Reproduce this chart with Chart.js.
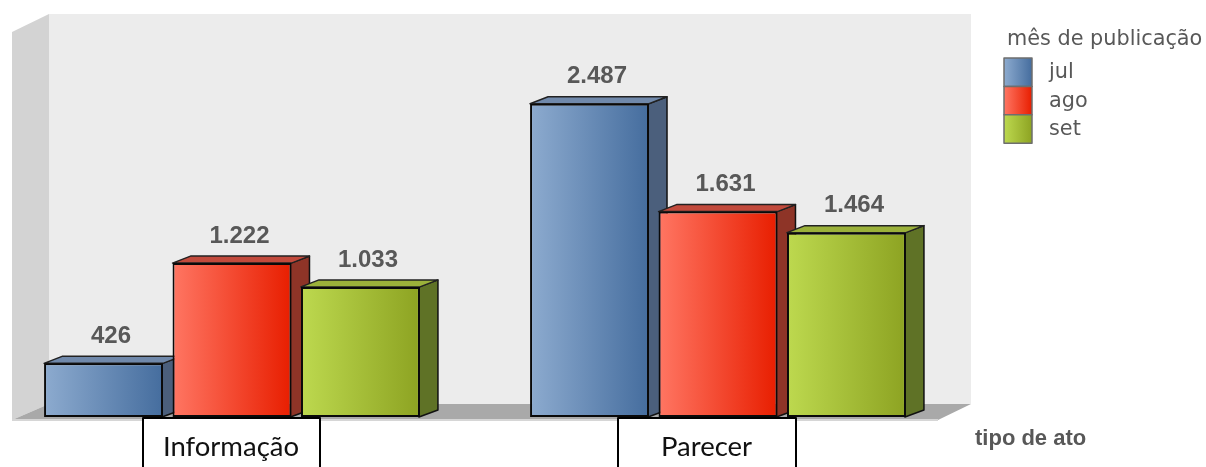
<!DOCTYPE html>
<html><head><meta charset="utf-8">
<style>html,body{margin:0;padding:0;background:#fff}canvas{display:block}</style>
<script src="https://cdn.jsdelivr.net/npm/chart.js@4"></script>
</head><body><canvas id="c" width="1206" height="467"></canvas>
<script>
const categories = ['Informação', 'Parecer'];
const jul = [426, 2487];
const ago = [1222, 1631];
const set = [1033, 1464];
const seriesNames = ['jul', 'ago', 'set'];
const legendTitle = 'mês de publicação';
const axisTitle = 'tipo de ato';
const palette = [
  {l:'#8dabcf', r:'#456d9e', top:'#7089ab', side:'#4b5f7c'},
  {l:'#ff7663', r:'#e81e00', top:'#c24a3c', side:'#8e3427'},
  {l:'#bdd94f', r:'#8da322', top:'#9bb13a', side:'#5f7226'}
];
const DX = 18, DY = 7;
const fmt = v => v.toLocaleString('de-DE');

function poly(c, pts, fill, stroke, lw){
  c.beginPath(); pts.forEach((p,i)=> i?c.lineTo(p[0],p[1]):c.moveTo(p[0],p[1])); c.closePath();
  if(fill){c.fillStyle=fill;c.fill();}
  if(stroke){c.strokeStyle=stroke;c.lineWidth=lw||1;c.lineJoin='round';c.stroke();}
}
const scene = {
  id:'scene',
  beforeDraw(chart){
    const c = chart.ctx;
    c.save();
    poly(c,[[49,14],[971,14],[971,404],[49,404]],'#ececec');
    poly(c,[[12,32],[49,14],[49,404],[12,420]],'#d3d3d3');
    poly(c,[[49,404],[971,404],[938,420],[12,420]],'#a9a9a9');
    c.fillStyle='#d6d6d6'; c.fillRect(12,419,926,2);
    c.restore();
  },
  beforeDatasetsDraw(chart){
    const c = chart.ctx;
    chart.data.datasets.forEach((ds,di)=>{
      const meta = chart.getDatasetMeta(di), col = palette[di];
      meta.data.forEach(el=>{
        const {x,y,base,width} = el.getProps(['x','y','base','width']);
        const x1 = x-width/2, x2 = x+width/2;
        poly(c,[[x2-1,y],[x2+DX,y-DY],[x2+DX,base-DY],[x2-1,base]],col.side,'#111',1.5);
        poly(c,[[x1,y],[x1+DX,y-DY],[x2+DX,y-DY],[x2,y]],col.top,'#222',1.5);
        const g = c.createLinearGradient(x1,0,x2,0);
        g.addColorStop(0,col.l); g.addColorStop(1,col.r);
        el.options = Object.assign({},el.options,{backgroundColor:g,borderColor:'#0a0a0a'});
        el.draw(c);
      });
    });
    // value labels
    c.save();
    c.font='bold 24px "Liberation Sans"'; c.fillStyle='#585858';
    c.textAlign='center'; c.textBaseline='middle';
    chart.data.datasets.forEach((ds,di)=>{
      chart.getDatasetMeta(di).data.forEach((el,i)=>{
        c.fillText(fmt(ds.data[i]), el.x+7.5, el.y-27);
      });
    });
    // category boxes
    const boxes=[[143,320],[618,796]];
    categories.forEach((t,i)=>{
      const [a,b]=boxes[i];
      c.fillStyle='#fff'; c.fillRect(a,418,b-a,49);
      c.strokeStyle='#000'; c.lineWidth=2;
      c.beginPath(); c.moveTo(a,468); c.lineTo(a,418); c.lineTo(b,418); c.lineTo(b,468); c.stroke();
      c.fillStyle='#111'; c.font='27.5px Lato'; c.textAlign='center'; c.textBaseline='alphabetic';
      c.fillText(t,(a+b)/2-0.5,456);
    });
    // axis title
    c.fillStyle='#585858'; c.font='bold 22px "Liberation Sans"'; c.textAlign='left'; c.textBaseline='alphabetic';
    c.fillText(axisTitle,975,445);
    // legend
    c.font='20.8px "DejaVu Sans"'; c.fillStyle='#585858';
    c.fillText(legendTitle,1007,45);
    seriesNames.forEach((n,i)=>{
      const y=58+i*28.4, h=28.4;
      const g=c.createLinearGradient(1004,0,1032,0);
      g.addColorStop(0,palette[i].l); g.addColorStop(1,palette[i].r);
      c.fillStyle=g; c.fillRect(1004,y,28,h);
      c.strokeStyle='#6e6e6e'; c.lineWidth=1.5; c.strokeRect(1004,y,28,h);
      c.fillStyle='#585858'; c.font='20.8px "DejaVu Sans"'; c.textBaseline='middle';
      c.fillText(n,1049,y+15);
    });
    c.restore();
    return false;
  }
};
new Chart(document.getElementById('c'),{
  type:'bar',
  data:{labels:categories,datasets:[
    {label:seriesNames[0],data:jul,backgroundColor:palette[0].r,borderColor:'#0a0a0a',borderWidth:2,borderSkipped:false},
    {label:seriesNames[1],data:ago,backgroundColor:palette[1].r,borderColor:'#0a0a0a',borderWidth:2,borderSkipped:false},
    {label:seriesNames[2],data:set,backgroundColor:palette[2].r,borderColor:'#0a0a0a',borderWidth:2,borderSkipped:false}
  ]},
  options:{
    responsive:false,animation:false,devicePixelRatio:1,
    layout:{padding:{left:232,right:488,top:14,bottom:50}},
    datasets:{bar:{categoryPercentage:0.793,barPercentage:0.926}},
    plugins:{legend:{display:false},tooltip:{enabled:false},title:{display:false}},
    scales:{
      x:{display:false,offset:false},
      y:{display:false,min:0,max:3200}
    }
  },
  plugins:[scene]
});
</script></body></html>
